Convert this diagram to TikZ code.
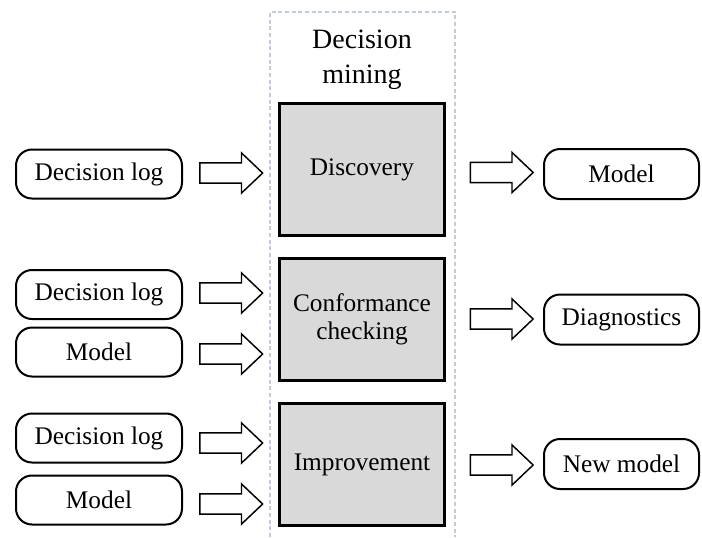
\documentclass[tikz,border=0pt]{standalone}
\usepackage{fontspec}
\setmainfont{Liberation Serif}
\usetikzlibrary{shapes.arrows}
\definecolor{stagegray}{HTML}{D9D9D9}
\definecolor{framegray}{RGB}{196,202,214}

\begin{document}
\begin{tikzpicture}[x=0.75pt,y={(0pt,-0.75pt)},
	stage/.style={draw, line width=2.25pt, fill=stagegray, minimum width=123.75pt,
		minimum height=91.5pt, align=center, font=\fontsize{19}{21}\selectfont},
	inbox/.style={draw, line width=1.5pt, rounded corners=12pt, minimum width=124.5pt,
		minimum height=36.75pt, font=\fontsize{19}{21}\selectfont},
	outbox/.style={inbox, minimum width=116.25pt, minimum height=37.5pt},
	fat/.style={draw, line width=1.1pt, single arrow, inner xsep=0pt, inner ysep=7pt,
		minimum height=47pt, single arrow head extend=7.5pt, single arrow tip angle=87}]
	\useasboundingbox (0,0) rectangle (702,537);
	% the frame round the mining techniques
	\draw[framegray, line width=0.8pt, dash pattern=on 3pt off 2pt]
		(270,537) -- (270,12) -- (455,12) -- (455,537);
	\node	(title) at (362,60) [align=center, font=\fontsize{21}{26}\selectfont] {Decision\\mining};

	\node	(disc) at (362,169.5) [stage, minimum height=99pt] {Discovery};
	\node	(conf) at (362,319.5) [stage] {Conformance\\checking};
	\node	(impr) at (362,464.5) [stage] {Improvement};

	\node	(log1) at (99,174) [inbox] {Decision log};
	\node	(log2) at (99,294.5) [inbox] {Decision log};
	\node	(mod2) at (99,352) [inbox] {Model};
	\node	(log3) at (99,438) [inbox] {Decision log};
	\node	(mod3) at (99,500) [inbox] {Model};

	\node	(out1) at (621.5,174) [outbox] {Model};
	\node	(out2) at (621.5,319.5) [outbox] {Diagnostics};
	\node	(out3) at (621.5,464) [outbox] {New model};

	\node	(a1) at (226,173) [fat] {};
	\node	(a2) at (226,293) [fat] {};
	\node	(a3) at (226,354) [fat] {};
	\node	(a4) at (226,443) [fat] {};
	\node	(a5) at (226,504) [fat] {};
	\node	(b1) at (496.5,172.5) [fat] {};
	\node	(b2) at (496.5,319) [fat] {};
	\node	(b3) at (496.5,465) [fat] {};
\end{tikzpicture}
\end{document}
